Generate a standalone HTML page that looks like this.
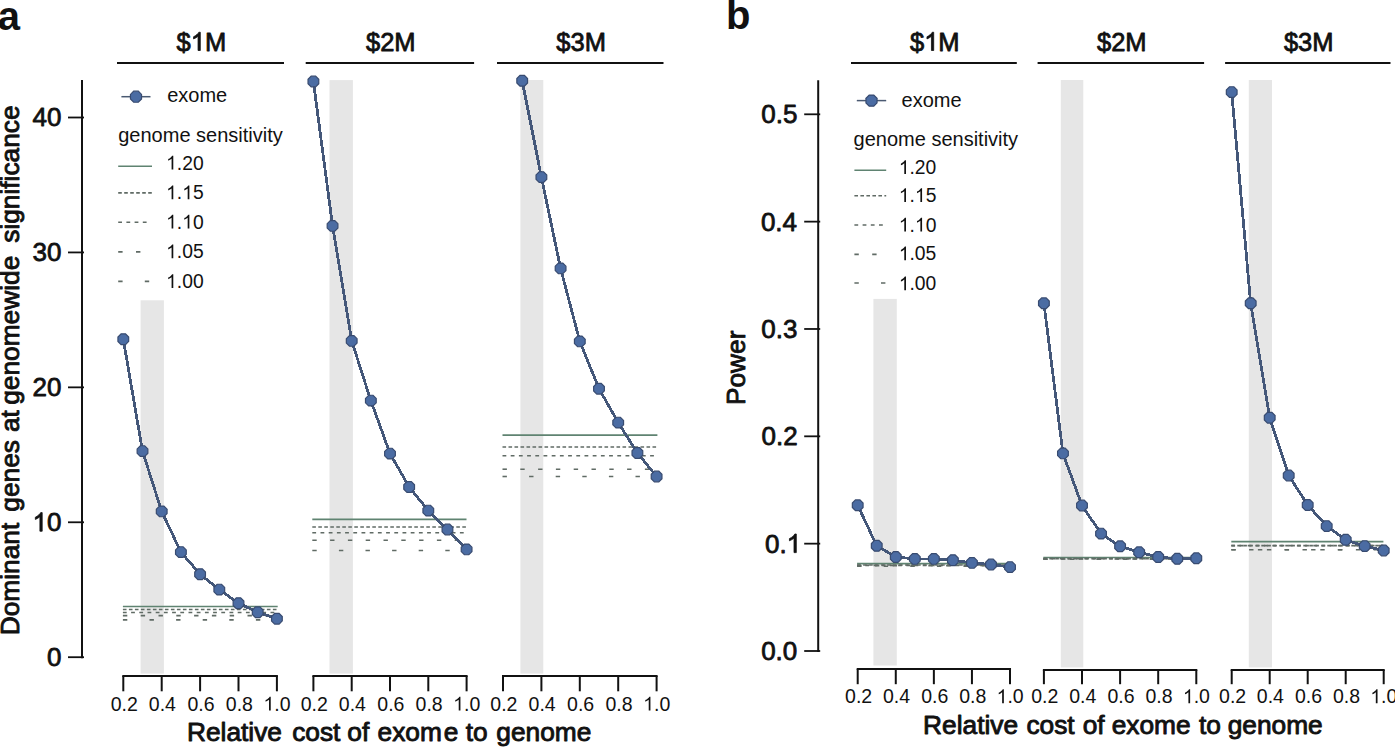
<!DOCTYPE html>
<html><head><meta charset="utf-8"><title>figure</title>
<style>html,body{margin:0;padding:0;background:#fff;overflow:hidden;} svg{display:block;}</style>
</head><body>
<svg width="1395" height="748" viewBox="0 0 1395 748" font-family='"Liberation Sans", sans-serif'>
<rect width="1395" height="748" fill="#ffffff"/>
<text x="-2.37" y="29.80" font-size="40" font-weight="bold" fill="#111111">a</text>
<line x1="82" y1="80" x2="82" y2="658.2" stroke="#111111" stroke-width="2"/>
<line x1="68" y1="657.20" x2="84" y2="657.20" stroke="#111111" stroke-width="1.8"/>
<text x="46.96" y="666.15" font-size="26" font-weight="normal" fill="#111111" stroke="#111111" stroke-width="0.8" stroke-linejoin="round">0</text>
<line x1="68" y1="522.28" x2="84" y2="522.28" stroke="#111111" stroke-width="1.8"/>
<path transform="translate(32.50,531.23) scale(0.01270,-0.01270)" d="M763,0L583,0L583,1147Q518,1085 415,1024Q312,964 223,931L223,1105Q374,1176 487,1276Q600,1377 647,1466L763,1466Z" fill="#111111" stroke="#111111" stroke-width="63.0" stroke-linejoin="round"/><text x="46.96" y="531.23" font-size="26" font-weight="normal" fill="#111111" stroke="#111111" stroke-width="0.8" stroke-linejoin="round">0</text>
<line x1="68" y1="387.35" x2="84" y2="387.35" stroke="#111111" stroke-width="1.8"/>
<text x="32.50" y="396.30" font-size="26" font-weight="normal" fill="#111111" stroke="#111111" stroke-width="0.8" stroke-linejoin="round">20</text>
<line x1="68" y1="252.43" x2="84" y2="252.43" stroke="#111111" stroke-width="1.8"/>
<text x="32.50" y="261.38" font-size="26" font-weight="normal" fill="#111111" stroke="#111111" stroke-width="0.8" stroke-linejoin="round">30</text>
<line x1="68" y1="117.50" x2="84" y2="117.50" stroke="#111111" stroke-width="1.8"/>
<text x="32.50" y="126.45" font-size="26" font-weight="normal" fill="#111111" stroke="#111111" stroke-width="0.8" stroke-linejoin="round">40</text>
<g transform="rotate(-90)"><text x="-635.31" y="18.70" font-size="26.3" font-weight="normal" fill="#111111" stroke="#111111" stroke-width="0.9" stroke-linejoin="round">Dominant</text><text x="-511.65" y="18.70" font-size="26.3" font-weight="normal" fill="#111111" stroke="#111111" stroke-width="0.9" stroke-linejoin="round">genes</text><text x="-432.07" y="18.70" font-size="26.3" font-weight="normal" fill="#111111" stroke="#111111" stroke-width="0.9" stroke-linejoin="round">at</text><text x="-404.85" y="18.70" font-size="26.3" font-weight="normal" fill="#111111" stroke="#111111" stroke-width="0.9" stroke-linejoin="round">genomewide</text><text x="-242.78" y="18.70" font-size="26.3" font-weight="normal" fill="#111111" stroke="#111111" stroke-width="0.9" stroke-linejoin="round">significance</text></g>
<text x="186.99" y="741.20" font-size="26.3" font-weight="normal" fill="#111111" stroke="#111111" stroke-width="0.9" stroke-linejoin="round">Relative</text><text x="292.13" y="741.20" font-size="26.3" font-weight="normal" fill="#111111" stroke="#111111" stroke-width="0.9" stroke-linejoin="round">cost</text><text x="347.35" y="741.20" font-size="26.3" font-weight="normal" fill="#111111" stroke="#111111" stroke-width="0.9" stroke-linejoin="round">of</text><text x="377.53" y="741.20" font-size="26.3" font-weight="normal" fill="#111111" stroke="#111111" stroke-width="0.9" stroke-linejoin="round">exom</text><text x="443.83" y="741.20" font-size="26.3" font-weight="normal" fill="#111111" stroke="#111111" stroke-width="0.9" stroke-linejoin="round">e</text><text x="465.65" y="741.20" font-size="26.3" font-weight="normal" fill="#111111" stroke="#111111" stroke-width="0.9" stroke-linejoin="round">to</text><text x="496.35" y="741.20" font-size="26.3" font-weight="normal" fill="#111111" stroke="#111111" stroke-width="0.9" stroke-linejoin="round">genome</text>
<text x="176.61" y="50.50" font-size="25.5" font-weight="normal" fill="#111111" stroke="#111111" stroke-width="0.8" stroke-linejoin="round">$</text><path transform="translate(190.79,50.50) scale(0.01245,-0.01245)" d="M763,0L583,0L583,1147Q518,1085 415,1024Q312,964 223,931L223,1105Q374,1176 487,1276Q600,1377 647,1466L763,1466Z" fill="#111111" stroke="#111111" stroke-width="64.3" stroke-linejoin="round"/><text x="204.97" y="50.50" font-size="25.5" font-weight="normal" fill="#111111" stroke="#111111" stroke-width="0.8" stroke-linejoin="round">M</text>
<line x1="117" y1="62.9" x2="284" y2="62.9" stroke="#111111" stroke-width="2"/>
<rect x="140.6" y="300.3" width="23.30" height="373.30" fill="#e6e6e6"/>
<line x1="122.3" y1="676" x2="277.90000000000003" y2="676" stroke="#111111" stroke-width="2"/>
<line x1="123.30" y1="676" x2="123.30" y2="691.3" stroke="#111111" stroke-width="2"/>
<text x="110.66" y="710.60" font-size="19.5" font-weight="normal" fill="#111111">0.2</text>
<line x1="161.70" y1="676" x2="161.70" y2="691.3" stroke="#111111" stroke-width="2"/>
<text x="148.85" y="710.60" font-size="19.5" font-weight="normal" fill="#111111">0.4</text>
<line x1="200.10" y1="676" x2="200.10" y2="691.3" stroke="#111111" stroke-width="2"/>
<text x="187.39" y="710.60" font-size="19.5" font-weight="normal" fill="#111111">0.6</text>
<line x1="238.50" y1="676" x2="238.50" y2="691.3" stroke="#111111" stroke-width="2"/>
<text x="225.79" y="710.60" font-size="19.5" font-weight="normal" fill="#111111">0.8</text>
<line x1="276.90" y1="676" x2="276.90" y2="691.3" stroke="#111111" stroke-width="2"/>
<path transform="translate(263.47,710.60) scale(0.00952,-0.00952)" d="M763,0L583,0L583,1147Q518,1085 415,1024Q312,964 223,931L223,1105Q374,1176 487,1276Q600,1377 647,1466L763,1466Z" fill="#111111"/><text x="274.31" y="710.60" font-size="19.5" font-weight="normal" fill="#111111">.0</text>
<line x1="122.9" y1="606.5" x2="277.7" y2="606.5" stroke="#5f8371" stroke-width="1.6"/>
<line x1="122.9" y1="609.5" x2="277.7" y2="609.5" stroke="#606b65" stroke-width="1.6" stroke-dasharray="3.6 2.4"/>
<line x1="122.9" y1="612.5" x2="277.7" y2="612.5" stroke="#606b65" stroke-width="1.6" stroke-dasharray="3.8 4.4"/>
<line x1="122.9" y1="615.6" x2="277.7" y2="615.6" stroke="#606b65" stroke-width="1.6" stroke-dasharray="4.4 13.4"/>
<line x1="122.9" y1="619.9" x2="277.7" y2="619.9" stroke="#606b65" stroke-width="1.6" stroke-dasharray="4.4 22.2"/>
<polyline points="123.30,339.2 142.50,451.1 161.70,511.4 180.90,552.1 200.10,574.2 219.30,589.6 238.50,603.2 257.70,612.3 276.90,618.7" fill="none" stroke="#445779" stroke-width="2.8" stroke-linejoin="round" shape-rendering="crispEdges"/>
<polygon points="128.66,341.42 125.52,344.56 121.08,344.56 117.94,341.42 117.94,336.98 121.08,333.84 125.52,333.84 128.66,336.98" fill="#4b6ca3" stroke="#384b70" stroke-width="1.2"/>
<polygon points="147.86,453.32 144.72,456.46 140.28,456.46 137.14,453.32 137.14,448.88 140.28,445.74 144.72,445.74 147.86,448.88" fill="#4b6ca3" stroke="#384b70" stroke-width="1.2"/>
<polygon points="167.06,513.62 163.92,516.76 159.48,516.76 156.34,513.62 156.34,509.18 159.48,506.04 163.92,506.04 167.06,509.18" fill="#4b6ca3" stroke="#384b70" stroke-width="1.2"/>
<polygon points="186.26,554.32 183.12,557.46 178.68,557.46 175.54,554.32 175.54,549.88 178.68,546.74 183.12,546.74 186.26,549.88" fill="#4b6ca3" stroke="#384b70" stroke-width="1.2"/>
<polygon points="205.46,576.42 202.32,579.56 197.88,579.56 194.74,576.42 194.74,571.98 197.88,568.84 202.32,568.84 205.46,571.98" fill="#4b6ca3" stroke="#384b70" stroke-width="1.2"/>
<polygon points="224.66,591.82 221.52,594.96 217.08,594.96 213.94,591.82 213.94,587.38 217.08,584.24 221.52,584.24 224.66,587.38" fill="#4b6ca3" stroke="#384b70" stroke-width="1.2"/>
<polygon points="243.86,605.42 240.72,608.56 236.28,608.56 233.14,605.42 233.14,600.98 236.28,597.84 240.72,597.84 243.86,600.98" fill="#4b6ca3" stroke="#384b70" stroke-width="1.2"/>
<polygon points="263.06,614.52 259.92,617.66 255.48,617.66 252.34,614.52 252.34,610.08 255.48,606.94 259.92,606.94 263.06,610.08" fill="#4b6ca3" stroke="#384b70" stroke-width="1.2"/>
<polygon points="282.26,620.92 279.12,624.06 274.68,624.06 271.54,620.92 271.54,616.48 274.68,613.34 279.12,613.34 282.26,616.48" fill="#4b6ca3" stroke="#384b70" stroke-width="1.2"/>
<text x="366.01" y="50.50" font-size="25.5" font-weight="normal" fill="#111111" stroke="#111111" stroke-width="0.8" stroke-linejoin="round">$2M</text>
<line x1="305.7" y1="62.9" x2="474.1" y2="62.9" stroke="#111111" stroke-width="2"/>
<rect x="329.5" y="80.1" width="23.40" height="593.50" fill="#e6e6e6"/>
<line x1="312.4" y1="676" x2="467.6" y2="676" stroke="#111111" stroke-width="2"/>
<line x1="313.40" y1="676" x2="313.40" y2="691.3" stroke="#111111" stroke-width="2"/>
<text x="300.76" y="710.60" font-size="19.5" font-weight="normal" fill="#111111">0.2</text>
<line x1="351.70" y1="676" x2="351.70" y2="691.3" stroke="#111111" stroke-width="2"/>
<text x="338.85" y="710.60" font-size="19.5" font-weight="normal" fill="#111111">0.4</text>
<line x1="390.00" y1="676" x2="390.00" y2="691.3" stroke="#111111" stroke-width="2"/>
<text x="377.29" y="710.60" font-size="19.5" font-weight="normal" fill="#111111">0.6</text>
<line x1="428.30" y1="676" x2="428.30" y2="691.3" stroke="#111111" stroke-width="2"/>
<text x="415.59" y="710.60" font-size="19.5" font-weight="normal" fill="#111111">0.8</text>
<line x1="466.60" y1="676" x2="466.60" y2="691.3" stroke="#111111" stroke-width="2"/>
<path transform="translate(453.17,710.60) scale(0.00952,-0.00952)" d="M763,0L583,0L583,1147Q518,1085 415,1024Q312,964 223,931L223,1105Q374,1176 487,1276Q600,1377 647,1466L763,1466Z" fill="#111111"/><text x="464.01" y="710.60" font-size="19.5" font-weight="normal" fill="#111111">.0</text>
<line x1="312.3" y1="519.4" x2="466.5" y2="519.4" stroke="#5f8371" stroke-width="1.6"/>
<line x1="312.3" y1="527" x2="466.5" y2="527" stroke="#606b65" stroke-width="1.6" stroke-dasharray="3.6 2.4"/>
<line x1="312.3" y1="532.8" x2="466.5" y2="532.8" stroke="#606b65" stroke-width="1.6" stroke-dasharray="3.8 4.4"/>
<line x1="312.3" y1="540.3" x2="466.5" y2="540.3" stroke="#606b65" stroke-width="1.6" stroke-dasharray="4.4 13.4"/>
<line x1="312.3" y1="550.5" x2="466.5" y2="550.5" stroke="#606b65" stroke-width="1.6" stroke-dasharray="4.4 22.2"/>
<polyline points="313.40,81.5 332.55,225.9 351.70,340.9 370.85,400.6 390.00,453.6 409.15,487 428.30,510.6 447.45,529.5 466.60,549.4" fill="none" stroke="#445779" stroke-width="2.8" stroke-linejoin="round" shape-rendering="crispEdges"/>
<polygon points="318.76,83.72 315.62,86.86 311.18,86.86 308.04,83.72 308.04,79.28 311.18,76.14 315.62,76.14 318.76,79.28" fill="#4b6ca3" stroke="#384b70" stroke-width="1.2"/>
<polygon points="337.91,228.12 334.77,231.26 330.33,231.26 327.19,228.12 327.19,223.68 330.33,220.54 334.77,220.54 337.91,223.68" fill="#4b6ca3" stroke="#384b70" stroke-width="1.2"/>
<polygon points="357.06,343.12 353.92,346.26 349.48,346.26 346.34,343.12 346.34,338.68 349.48,335.54 353.92,335.54 357.06,338.68" fill="#4b6ca3" stroke="#384b70" stroke-width="1.2"/>
<polygon points="376.21,402.82 373.07,405.96 368.63,405.96 365.49,402.82 365.49,398.38 368.63,395.24 373.07,395.24 376.21,398.38" fill="#4b6ca3" stroke="#384b70" stroke-width="1.2"/>
<polygon points="395.36,455.82 392.22,458.96 387.78,458.96 384.64,455.82 384.64,451.38 387.78,448.24 392.22,448.24 395.36,451.38" fill="#4b6ca3" stroke="#384b70" stroke-width="1.2"/>
<polygon points="414.51,489.22 411.37,492.36 406.93,492.36 403.79,489.22 403.79,484.78 406.93,481.64 411.37,481.64 414.51,484.78" fill="#4b6ca3" stroke="#384b70" stroke-width="1.2"/>
<polygon points="433.66,512.82 430.52,515.96 426.08,515.96 422.94,512.82 422.94,508.38 426.08,505.24 430.52,505.24 433.66,508.38" fill="#4b6ca3" stroke="#384b70" stroke-width="1.2"/>
<polygon points="452.81,531.72 449.67,534.86 445.23,534.86 442.09,531.72 442.09,527.28 445.23,524.14 449.67,524.14 452.81,527.28" fill="#4b6ca3" stroke="#384b70" stroke-width="1.2"/>
<polygon points="471.96,551.62 468.82,554.76 464.38,554.76 461.24,551.62 461.24,547.18 464.38,544.04 468.82,544.04 471.96,547.18" fill="#4b6ca3" stroke="#384b70" stroke-width="1.2"/>
<text x="556.36" y="50.50" font-size="25.5" font-weight="normal" fill="#111111" stroke="#111111" stroke-width="0.8" stroke-linejoin="round">$3M</text>
<line x1="497" y1="62.9" x2="663.5" y2="62.9" stroke="#111111" stroke-width="2"/>
<rect x="520.4" y="80" width="22.90" height="593.60" fill="#e6e6e6"/>
<line x1="502.0" y1="676" x2="657.6" y2="676" stroke="#111111" stroke-width="2"/>
<line x1="503.00" y1="676" x2="503.00" y2="691.3" stroke="#111111" stroke-width="2"/>
<text x="490.36" y="710.60" font-size="19.5" font-weight="normal" fill="#111111">0.2</text>
<line x1="541.40" y1="676" x2="541.40" y2="691.3" stroke="#111111" stroke-width="2"/>
<text x="528.55" y="710.60" font-size="19.5" font-weight="normal" fill="#111111">0.4</text>
<line x1="579.80" y1="676" x2="579.80" y2="691.3" stroke="#111111" stroke-width="2"/>
<text x="567.09" y="710.60" font-size="19.5" font-weight="normal" fill="#111111">0.6</text>
<line x1="618.20" y1="676" x2="618.20" y2="691.3" stroke="#111111" stroke-width="2"/>
<text x="605.49" y="710.60" font-size="19.5" font-weight="normal" fill="#111111">0.8</text>
<line x1="656.60" y1="676" x2="656.60" y2="691.3" stroke="#111111" stroke-width="2"/>
<path transform="translate(643.17,710.60) scale(0.00952,-0.00952)" d="M763,0L583,0L583,1147Q518,1085 415,1024Q312,964 223,931L223,1105Q374,1176 487,1276Q600,1377 647,1466L763,1466Z" fill="#111111"/><text x="654.01" y="710.60" font-size="19.5" font-weight="normal" fill="#111111">.0</text>
<line x1="502.5" y1="435.1" x2="657.4" y2="435.1" stroke="#5f8371" stroke-width="1.6"/>
<line x1="502.5" y1="447" x2="657.4" y2="447" stroke="#606b65" stroke-width="1.6" stroke-dasharray="3.6 2.4"/>
<line x1="502.5" y1="455.7" x2="657.4" y2="455.7" stroke="#606b65" stroke-width="1.6" stroke-dasharray="3.8 4.4"/>
<line x1="502.5" y1="469.2" x2="657.4" y2="469.2" stroke="#606b65" stroke-width="1.6" stroke-dasharray="4.4 13.4"/>
<line x1="502.5" y1="476.5" x2="657.4" y2="476.5" stroke="#606b65" stroke-width="1.6" stroke-dasharray="4.4 22.2"/>
<polyline points="522.20,80.8 541.40,177.1 560.60,268.4 579.80,341.4 599.00,388.7 618.20,422.6 637.40,453 656.60,476.5" fill="none" stroke="#445779" stroke-width="2.8" stroke-linejoin="round" shape-rendering="crispEdges"/>
<polygon points="527.56,83.02 524.42,86.16 519.98,86.16 516.84,83.02 516.84,78.58 519.98,75.44 524.42,75.44 527.56,78.58" fill="#4b6ca3" stroke="#384b70" stroke-width="1.2"/>
<polygon points="546.76,179.32 543.62,182.46 539.18,182.46 536.04,179.32 536.04,174.88 539.18,171.74 543.62,171.74 546.76,174.88" fill="#4b6ca3" stroke="#384b70" stroke-width="1.2"/>
<polygon points="565.96,270.62 562.82,273.76 558.38,273.76 555.24,270.62 555.24,266.18 558.38,263.04 562.82,263.04 565.96,266.18" fill="#4b6ca3" stroke="#384b70" stroke-width="1.2"/>
<polygon points="585.16,343.62 582.02,346.76 577.58,346.76 574.44,343.62 574.44,339.18 577.58,336.04 582.02,336.04 585.16,339.18" fill="#4b6ca3" stroke="#384b70" stroke-width="1.2"/>
<polygon points="604.36,390.92 601.22,394.06 596.78,394.06 593.64,390.92 593.64,386.48 596.78,383.34 601.22,383.34 604.36,386.48" fill="#4b6ca3" stroke="#384b70" stroke-width="1.2"/>
<polygon points="623.56,424.82 620.42,427.96 615.98,427.96 612.84,424.82 612.84,420.38 615.98,417.24 620.42,417.24 623.56,420.38" fill="#4b6ca3" stroke="#384b70" stroke-width="1.2"/>
<polygon points="642.76,455.22 639.62,458.36 635.18,458.36 632.04,455.22 632.04,450.78 635.18,447.64 639.62,447.64 642.76,450.78" fill="#4b6ca3" stroke="#384b70" stroke-width="1.2"/>
<polygon points="661.96,478.72 658.82,481.86 654.38,481.86 651.24,478.72 651.24,474.28 654.38,471.14 658.82,471.14 661.96,474.28" fill="#4b6ca3" stroke="#384b70" stroke-width="1.2"/>
<line x1="121.4" y1="96.7" x2="150.5" y2="96.7" stroke="#4a5a72" stroke-width="1.5"/>
<polygon points="141.54,99.00 138.30,102.24 133.70,102.24 130.46,99.00 130.46,94.40 133.70,91.16 138.30,91.16 141.54,94.40" fill="#4b6ca3" stroke="#384b70" stroke-width="1.2"/>
<text x="167.15" y="102.10" font-size="20" font-weight="normal" fill="#111111">exome</text>
<text x="118.26" y="141.80" font-size="20" font-weight="normal" fill="#111111">genome sensitivity</text>
<line x1="118.2" y1="166.2" x2="152" y2="166.2" stroke="#5f8371" stroke-width="1.6"/>
<path transform="translate(166.10,169.50) scale(0.00942,-0.00942)" d="M763,0L583,0L583,1147Q518,1085 415,1024Q312,964 223,931L223,1105Q374,1176 487,1276Q600,1377 647,1466L763,1466Z" fill="#111111"/><text x="176.83" y="169.50" font-size="19.3" font-weight="normal" fill="#111111">.20</text>
<line x1="118.2" y1="192.9" x2="152" y2="192.9" stroke="#606b65" stroke-width="1.6" stroke-dasharray="3.6 2.4"/>
<path transform="translate(166.10,199.20) scale(0.00942,-0.00942)" d="M763,0L583,0L583,1147Q518,1085 415,1024Q312,964 223,931L223,1105Q374,1176 487,1276Q600,1377 647,1466L763,1466Z" fill="#111111"/><text x="176.83" y="199.20" font-size="19.3" font-weight="normal" fill="#111111">.</text><path transform="translate(182.19,199.20) scale(0.00942,-0.00942)" d="M763,0L583,0L583,1147Q518,1085 415,1024Q312,964 223,931L223,1105Q374,1176 487,1276Q600,1377 647,1466L763,1466Z" fill="#111111"/><text x="192.93" y="199.20" font-size="19.3" font-weight="normal" fill="#111111">5</text>
<line x1="118.2" y1="222.3" x2="147.2" y2="222.3" stroke="#606b65" stroke-width="1.6" stroke-dasharray="3.8 4.4"/>
<path transform="translate(166.10,228.50) scale(0.00942,-0.00942)" d="M763,0L583,0L583,1147Q518,1085 415,1024Q312,964 223,931L223,1105Q374,1176 487,1276Q600,1377 647,1466L763,1466Z" fill="#111111"/><text x="176.83" y="228.50" font-size="19.3" font-weight="normal" fill="#111111">.</text><path transform="translate(182.19,228.50) scale(0.00942,-0.00942)" d="M763,0L583,0L583,1147Q518,1085 415,1024Q312,964 223,931L223,1105Q374,1176 487,1276Q600,1377 647,1466L763,1466Z" fill="#111111"/><text x="192.93" y="228.50" font-size="19.3" font-weight="normal" fill="#111111">0</text>
<line x1="118.2" y1="251.9" x2="152" y2="251.9" stroke="#606b65" stroke-width="1.6" stroke-dasharray="4.4 13.4"/>
<path transform="translate(166.10,258.20) scale(0.00942,-0.00942)" d="M763,0L583,0L583,1147Q518,1085 415,1024Q312,964 223,931L223,1105Q374,1176 487,1276Q600,1377 647,1466L763,1466Z" fill="#111111"/><text x="176.83" y="258.20" font-size="19.3" font-weight="normal" fill="#111111">.05</text>
<line x1="118.2" y1="281.4" x2="152" y2="281.4" stroke="#606b65" stroke-width="1.6" stroke-dasharray="4.4 22.2"/>
<path transform="translate(166.10,288.00) scale(0.00942,-0.00942)" d="M763,0L583,0L583,1147Q518,1085 415,1024Q312,964 223,931L223,1105Q374,1176 487,1276Q600,1377 647,1466L763,1466Z" fill="#111111"/><text x="176.83" y="288.00" font-size="19.3" font-weight="normal" fill="#111111">.00</text>
<text x="726.06" y="29.40" font-size="40" font-weight="bold" fill="#111111">b</text>
<line x1="818.2" y1="80.2" x2="818.2" y2="652" stroke="#111111" stroke-width="2"/>
<line x1="804.2" y1="651.00" x2="820.2" y2="651.00" stroke="#111111" stroke-width="1.8"/>
<text x="761.17" y="659.95" font-size="26" font-weight="normal" fill="#111111" stroke="#111111" stroke-width="0.8" stroke-linejoin="round">0.0</text>
<line x1="804.2" y1="543.66" x2="820.2" y2="543.66" stroke="#111111" stroke-width="1.8"/>
<text x="764.93" y="552.61" font-size="26" font-weight="normal" fill="#111111" stroke="#111111" stroke-width="0.8" stroke-linejoin="round">0.</text><path transform="translate(786.61,552.61) scale(0.01270,-0.01270)" d="M763,0L583,0L583,1147Q518,1085 415,1024Q312,964 223,931L223,1105Q374,1176 487,1276Q600,1377 647,1466L763,1466Z" fill="#111111" stroke="#111111" stroke-width="63.0" stroke-linejoin="round"/>
<line x1="804.2" y1="436.32" x2="820.2" y2="436.32" stroke="#111111" stroke-width="1.8"/>
<text x="761.46" y="445.27" font-size="26" font-weight="normal" fill="#111111" stroke="#111111" stroke-width="0.8" stroke-linejoin="round">0.2</text>
<line x1="804.2" y1="328.98" x2="820.2" y2="328.98" stroke="#111111" stroke-width="1.8"/>
<text x="761.30" y="337.93" font-size="26" font-weight="normal" fill="#111111" stroke="#111111" stroke-width="0.8" stroke-linejoin="round">0.3</text>
<line x1="804.2" y1="221.64" x2="820.2" y2="221.64" stroke="#111111" stroke-width="1.8"/>
<text x="760.92" y="230.59" font-size="26" font-weight="normal" fill="#111111" stroke="#111111" stroke-width="0.8" stroke-linejoin="round">0.4</text>
<line x1="804.2" y1="114.30" x2="820.2" y2="114.30" stroke="#111111" stroke-width="1.8"/>
<text x="761.25" y="123.25" font-size="26" font-weight="normal" fill="#111111" stroke="#111111" stroke-width="0.8" stroke-linejoin="round">0.5</text>
<g transform="rotate(-90)"><text x="-405.11" y="745.20" font-size="26.3" font-weight="normal" fill="#111111" stroke="#111111" stroke-width="0.9" stroke-linejoin="round">Power</text></g>
<text x="923.09" y="733.90" font-size="26.3" font-weight="normal" fill="#111111" stroke="#111111" stroke-width="0.9" stroke-linejoin="round">Relative</text><text x="1026.43" y="733.90" font-size="26.3" font-weight="normal" fill="#111111" stroke="#111111" stroke-width="0.9" stroke-linejoin="round">cost</text><text x="1082.65" y="733.90" font-size="26.3" font-weight="normal" fill="#111111" stroke="#111111" stroke-width="0.9" stroke-linejoin="round">of</text><text x="1111.73" y="733.90" font-size="26.3" font-weight="normal" fill="#111111" stroke="#111111" stroke-width="0.9" stroke-linejoin="round">exome</text><text x="1198.95" y="733.90" font-size="26.3" font-weight="normal" fill="#111111" stroke="#111111" stroke-width="0.9" stroke-linejoin="round">to</text><text x="1227.65" y="733.90" font-size="26.3" font-weight="normal" fill="#111111" stroke="#111111" stroke-width="0.9" stroke-linejoin="round">genome</text>
<text x="910.01" y="50.50" font-size="25.5" font-weight="normal" fill="#111111" stroke="#111111" stroke-width="0.8" stroke-linejoin="round">$</text><path transform="translate(924.19,50.50) scale(0.01245,-0.01245)" d="M763,0L583,0L583,1147Q518,1085 415,1024Q312,964 223,931L223,1105Q374,1176 487,1276Q600,1377 647,1466L763,1466Z" fill="#111111" stroke="#111111" stroke-width="64.3" stroke-linejoin="round"/><text x="938.37" y="50.50" font-size="25.5" font-weight="normal" fill="#111111" stroke="#111111" stroke-width="0.8" stroke-linejoin="round">M</text>
<line x1="851" y1="62.9" x2="1016.8" y2="62.9" stroke="#111111" stroke-width="2"/>
<rect x="873.4" y="298.9" width="23.40" height="366.60" fill="#e6e6e6"/>
<line x1="856.7" y1="669" x2="1011.0200000000001" y2="669" stroke="#111111" stroke-width="2"/>
<line x1="857.70" y1="669" x2="857.70" y2="684.2" stroke="#111111" stroke-width="2"/>
<text x="845.06" y="703.20" font-size="19.5" font-weight="normal" fill="#111111">0.2</text>
<line x1="895.78" y1="669" x2="895.78" y2="684.2" stroke="#111111" stroke-width="2"/>
<text x="882.93" y="703.20" font-size="19.5" font-weight="normal" fill="#111111">0.4</text>
<line x1="933.86" y1="669" x2="933.86" y2="684.2" stroke="#111111" stroke-width="2"/>
<text x="921.15" y="703.20" font-size="19.5" font-weight="normal" fill="#111111">0.6</text>
<line x1="971.94" y1="669" x2="971.94" y2="684.2" stroke="#111111" stroke-width="2"/>
<text x="959.23" y="703.20" font-size="19.5" font-weight="normal" fill="#111111">0.8</text>
<line x1="1010.02" y1="669" x2="1010.02" y2="684.2" stroke="#111111" stroke-width="2"/>
<path transform="translate(996.59,703.20) scale(0.00952,-0.00952)" d="M763,0L583,0L583,1147Q518,1085 415,1024Q312,964 223,931L223,1105Q374,1176 487,1276Q600,1377 647,1466L763,1466Z" fill="#111111"/><text x="1007.43" y="703.20" font-size="19.5" font-weight="normal" fill="#111111">.0</text>
<line x1="857.1" y1="563.6" x2="1009.5" y2="563.6" stroke="#5f8371" stroke-width="1.6"/>
<line x1="857.1" y1="565.0" x2="1009.5" y2="565.0" stroke="#606b65" stroke-width="1.6" stroke-dasharray="3.6 2.4"/>
<line x1="857.1" y1="565.4" x2="1009.5" y2="565.4" stroke="#606b65" stroke-width="1.6" stroke-dasharray="3.8 4.4"/>
<line x1="857.1" y1="565.8" x2="1009.5" y2="565.8" stroke="#606b65" stroke-width="1.6" stroke-dasharray="4.4 13.4"/>
<line x1="857.1" y1="566.2" x2="1009.5" y2="566.2" stroke="#606b65" stroke-width="1.6" stroke-dasharray="4.4 22.2"/>
<polyline points="857.70,505.3 876.74,545.8 895.78,557 914.82,558.9 933.86,558.9 952.90,560.2 971.94,562.9 990.98,564.5 1010.02,567.1" fill="none" stroke="#445779" stroke-width="2.8" stroke-linejoin="round" shape-rendering="crispEdges"/>
<polygon points="863.06,507.52 859.92,510.66 855.48,510.66 852.34,507.52 852.34,503.08 855.48,499.94 859.92,499.94 863.06,503.08" fill="#4b6ca3" stroke="#384b70" stroke-width="1.2"/>
<polygon points="882.10,548.02 878.96,551.16 874.52,551.16 871.38,548.02 871.38,543.58 874.52,540.44 878.96,540.44 882.10,543.58" fill="#4b6ca3" stroke="#384b70" stroke-width="1.2"/>
<polygon points="901.14,559.22 898.00,562.36 893.56,562.36 890.42,559.22 890.42,554.78 893.56,551.64 898.00,551.64 901.14,554.78" fill="#4b6ca3" stroke="#384b70" stroke-width="1.2"/>
<polygon points="920.18,561.12 917.04,564.26 912.60,564.26 909.46,561.12 909.46,556.68 912.60,553.54 917.04,553.54 920.18,556.68" fill="#4b6ca3" stroke="#384b70" stroke-width="1.2"/>
<polygon points="939.22,561.12 936.08,564.26 931.64,564.26 928.50,561.12 928.50,556.68 931.64,553.54 936.08,553.54 939.22,556.68" fill="#4b6ca3" stroke="#384b70" stroke-width="1.2"/>
<polygon points="958.26,562.42 955.12,565.56 950.68,565.56 947.54,562.42 947.54,557.98 950.68,554.84 955.12,554.84 958.26,557.98" fill="#4b6ca3" stroke="#384b70" stroke-width="1.2"/>
<polygon points="977.30,565.12 974.16,568.26 969.72,568.26 966.58,565.12 966.58,560.68 969.72,557.54 974.16,557.54 977.30,560.68" fill="#4b6ca3" stroke="#384b70" stroke-width="1.2"/>
<polygon points="996.34,566.72 993.20,569.86 988.76,569.86 985.62,566.72 985.62,562.28 988.76,559.14 993.20,559.14 996.34,562.28" fill="#4b6ca3" stroke="#384b70" stroke-width="1.2"/>
<polygon points="1015.38,569.32 1012.24,572.46 1007.80,572.46 1004.66,569.32 1004.66,564.88 1007.80,561.74 1012.24,561.74 1015.38,564.88" fill="#4b6ca3" stroke="#384b70" stroke-width="1.2"/>
<text x="1096.96" y="50.50" font-size="25.5" font-weight="normal" fill="#111111" stroke="#111111" stroke-width="0.8" stroke-linejoin="round">$2M</text>
<line x1="1037.6" y1="62.9" x2="1204.1" y2="62.9" stroke="#111111" stroke-width="2"/>
<rect x="1060.8" y="80" width="22.50" height="587.40" fill="#e6e6e6"/>
<line x1="1042.9" y1="670" x2="1197.3000000000002" y2="670" stroke="#111111" stroke-width="2"/>
<line x1="1043.90" y1="670" x2="1043.90" y2="684.2" stroke="#111111" stroke-width="2"/>
<text x="1031.26" y="703.20" font-size="19.5" font-weight="normal" fill="#111111">0.2</text>
<line x1="1082.00" y1="670" x2="1082.00" y2="684.2" stroke="#111111" stroke-width="2"/>
<text x="1069.15" y="703.20" font-size="19.5" font-weight="normal" fill="#111111">0.4</text>
<line x1="1120.10" y1="670" x2="1120.10" y2="684.2" stroke="#111111" stroke-width="2"/>
<text x="1107.39" y="703.20" font-size="19.5" font-weight="normal" fill="#111111">0.6</text>
<line x1="1158.20" y1="670" x2="1158.20" y2="684.2" stroke="#111111" stroke-width="2"/>
<text x="1145.49" y="703.20" font-size="19.5" font-weight="normal" fill="#111111">0.8</text>
<line x1="1196.30" y1="670" x2="1196.30" y2="684.2" stroke="#111111" stroke-width="2"/>
<path transform="translate(1182.87,703.20) scale(0.00952,-0.00952)" d="M763,0L583,0L583,1147Q518,1085 415,1024Q312,964 223,931L223,1105Q374,1176 487,1276Q600,1377 647,1466L763,1466Z" fill="#111111"/><text x="1193.71" y="703.20" font-size="19.5" font-weight="normal" fill="#111111">.0</text>
<line x1="1043.3" y1="557.5" x2="1196.5" y2="557.5" stroke="#5f8371" stroke-width="1.6"/>
<line x1="1043.3" y1="558.6" x2="1196.5" y2="558.6" stroke="#606b65" stroke-width="1.6" stroke-dasharray="3.6 2.4"/>
<line x1="1043.3" y1="558.8" x2="1196.5" y2="558.8" stroke="#606b65" stroke-width="1.6" stroke-dasharray="3.8 4.4"/>
<line x1="1043.3" y1="559.0" x2="1196.5" y2="559.0" stroke="#606b65" stroke-width="1.6" stroke-dasharray="4.4 13.4"/>
<line x1="1043.3" y1="559.3" x2="1196.5" y2="559.3" stroke="#606b65" stroke-width="1.6" stroke-dasharray="4.4 22.2"/>
<polyline points="1043.90,303.3 1062.95,453.4 1082.00,505.5 1101.05,533.6 1120.10,546.3 1139.15,552.3 1158.20,557 1177.25,558.8 1196.30,558.3" fill="none" stroke="#445779" stroke-width="2.8" stroke-linejoin="round" shape-rendering="crispEdges"/>
<polygon points="1049.26,305.52 1046.12,308.66 1041.68,308.66 1038.54,305.52 1038.54,301.08 1041.68,297.94 1046.12,297.94 1049.26,301.08" fill="#4b6ca3" stroke="#384b70" stroke-width="1.2"/>
<polygon points="1068.31,455.62 1065.17,458.76 1060.73,458.76 1057.59,455.62 1057.59,451.18 1060.73,448.04 1065.17,448.04 1068.31,451.18" fill="#4b6ca3" stroke="#384b70" stroke-width="1.2"/>
<polygon points="1087.36,507.72 1084.22,510.86 1079.78,510.86 1076.64,507.72 1076.64,503.28 1079.78,500.14 1084.22,500.14 1087.36,503.28" fill="#4b6ca3" stroke="#384b70" stroke-width="1.2"/>
<polygon points="1106.41,535.82 1103.27,538.96 1098.83,538.96 1095.69,535.82 1095.69,531.38 1098.83,528.24 1103.27,528.24 1106.41,531.38" fill="#4b6ca3" stroke="#384b70" stroke-width="1.2"/>
<polygon points="1125.46,548.52 1122.32,551.66 1117.88,551.66 1114.74,548.52 1114.74,544.08 1117.88,540.94 1122.32,540.94 1125.46,544.08" fill="#4b6ca3" stroke="#384b70" stroke-width="1.2"/>
<polygon points="1144.51,554.52 1141.37,557.66 1136.93,557.66 1133.79,554.52 1133.79,550.08 1136.93,546.94 1141.37,546.94 1144.51,550.08" fill="#4b6ca3" stroke="#384b70" stroke-width="1.2"/>
<polygon points="1163.56,559.22 1160.42,562.36 1155.98,562.36 1152.84,559.22 1152.84,554.78 1155.98,551.64 1160.42,551.64 1163.56,554.78" fill="#4b6ca3" stroke="#384b70" stroke-width="1.2"/>
<polygon points="1182.61,561.02 1179.47,564.16 1175.03,564.16 1171.89,561.02 1171.89,556.58 1175.03,553.44 1179.47,553.44 1182.61,556.58" fill="#4b6ca3" stroke="#384b70" stroke-width="1.2"/>
<polygon points="1201.66,560.52 1198.52,563.66 1194.08,563.66 1190.94,560.52 1190.94,556.08 1194.08,552.94 1198.52,552.94 1201.66,556.08" fill="#4b6ca3" stroke="#384b70" stroke-width="1.2"/>
<text x="1283.91" y="50.50" font-size="25.5" font-weight="normal" fill="#111111" stroke="#111111" stroke-width="0.8" stroke-linejoin="round">$3M</text>
<line x1="1225.1" y1="62.9" x2="1390.5" y2="62.9" stroke="#111111" stroke-width="2"/>
<rect x="1248.8" y="80" width="23.20" height="587.40" fill="#e6e6e6"/>
<line x1="1230.7" y1="670" x2="1384.7" y2="670" stroke="#111111" stroke-width="2"/>
<line x1="1231.70" y1="670" x2="1231.70" y2="684.2" stroke="#111111" stroke-width="2"/>
<text x="1219.06" y="703.20" font-size="19.5" font-weight="normal" fill="#111111">0.2</text>
<line x1="1269.70" y1="670" x2="1269.70" y2="684.2" stroke="#111111" stroke-width="2"/>
<text x="1256.85" y="703.20" font-size="19.5" font-weight="normal" fill="#111111">0.4</text>
<line x1="1307.70" y1="670" x2="1307.70" y2="684.2" stroke="#111111" stroke-width="2"/>
<text x="1294.99" y="703.20" font-size="19.5" font-weight="normal" fill="#111111">0.6</text>
<line x1="1345.70" y1="670" x2="1345.70" y2="684.2" stroke="#111111" stroke-width="2"/>
<text x="1332.99" y="703.20" font-size="19.5" font-weight="normal" fill="#111111">0.8</text>
<line x1="1383.70" y1="670" x2="1383.70" y2="684.2" stroke="#111111" stroke-width="2"/>
<path transform="translate(1370.27,703.20) scale(0.00952,-0.00952)" d="M763,0L583,0L583,1147Q518,1085 415,1024Q312,964 223,931L223,1105Q374,1176 487,1276Q600,1377 647,1466L763,1466Z" fill="#111111"/><text x="1381.11" y="703.20" font-size="19.5" font-weight="normal" fill="#111111">.0</text>
<line x1="1231.3" y1="541.6" x2="1383.4" y2="541.6" stroke="#5f8371" stroke-width="1.6"/>
<line x1="1231.3" y1="545.6" x2="1383.4" y2="545.6" stroke="#606b65" stroke-width="1.6" stroke-dasharray="3.6 2.4"/>
<line x1="1231.3" y1="545.6" x2="1383.4" y2="545.6" stroke="#606b65" stroke-width="1.6" stroke-dasharray="3.8 4.4"/>
<line x1="1231.3" y1="549.8" x2="1383.4" y2="549.8" stroke="#606b65" stroke-width="1.6" stroke-dasharray="4.4 13.4"/>
<line x1="1231.3" y1="549.8" x2="1383.4" y2="549.8" stroke="#606b65" stroke-width="1.6" stroke-dasharray="4.4 22.2"/>
<polyline points="1231.70,92.1 1250.70,303.3 1269.70,417.7 1288.70,475.5 1307.70,505 1326.70,526.1 1345.70,539.8 1364.70,546.1 1383.70,550.5" fill="none" stroke="#445779" stroke-width="2.8" stroke-linejoin="round" shape-rendering="crispEdges"/>
<polygon points="1237.06,94.32 1233.92,97.46 1229.48,97.46 1226.34,94.32 1226.34,89.88 1229.48,86.74 1233.92,86.74 1237.06,89.88" fill="#4b6ca3" stroke="#384b70" stroke-width="1.2"/>
<polygon points="1256.06,305.52 1252.92,308.66 1248.48,308.66 1245.34,305.52 1245.34,301.08 1248.48,297.94 1252.92,297.94 1256.06,301.08" fill="#4b6ca3" stroke="#384b70" stroke-width="1.2"/>
<polygon points="1275.06,419.92 1271.92,423.06 1267.48,423.06 1264.34,419.92 1264.34,415.48 1267.48,412.34 1271.92,412.34 1275.06,415.48" fill="#4b6ca3" stroke="#384b70" stroke-width="1.2"/>
<polygon points="1294.06,477.72 1290.92,480.86 1286.48,480.86 1283.34,477.72 1283.34,473.28 1286.48,470.14 1290.92,470.14 1294.06,473.28" fill="#4b6ca3" stroke="#384b70" stroke-width="1.2"/>
<polygon points="1313.06,507.22 1309.92,510.36 1305.48,510.36 1302.34,507.22 1302.34,502.78 1305.48,499.64 1309.92,499.64 1313.06,502.78" fill="#4b6ca3" stroke="#384b70" stroke-width="1.2"/>
<polygon points="1332.06,528.32 1328.92,531.46 1324.48,531.46 1321.34,528.32 1321.34,523.88 1324.48,520.74 1328.92,520.74 1332.06,523.88" fill="#4b6ca3" stroke="#384b70" stroke-width="1.2"/>
<polygon points="1351.06,542.02 1347.92,545.16 1343.48,545.16 1340.34,542.02 1340.34,537.58 1343.48,534.44 1347.92,534.44 1351.06,537.58" fill="#4b6ca3" stroke="#384b70" stroke-width="1.2"/>
<polygon points="1370.06,548.32 1366.92,551.46 1362.48,551.46 1359.34,548.32 1359.34,543.88 1362.48,540.74 1366.92,540.74 1370.06,543.88" fill="#4b6ca3" stroke="#384b70" stroke-width="1.2"/>
<polygon points="1389.06,552.72 1385.92,555.86 1381.48,555.86 1378.34,552.72 1378.34,548.28 1381.48,545.14 1385.92,545.14 1389.06,548.28" fill="#4b6ca3" stroke="#384b70" stroke-width="1.2"/>
<line x1="856.8" y1="100.6" x2="886.2" y2="100.6" stroke="#4a5a72" stroke-width="1.5"/>
<polygon points="877.04,102.90 873.80,106.14 869.20,106.14 865.96,102.90 865.96,98.30 869.20,95.06 873.80,95.06 877.04,98.30" fill="#4b6ca3" stroke="#384b70" stroke-width="1.2"/>
<text x="901.55" y="106.50" font-size="20" font-weight="normal" fill="#111111">exome</text>
<text x="853.56" y="146.20" font-size="20" font-weight="normal" fill="#111111">genome sensitivity</text>
<line x1="854.4" y1="170.3" x2="886.2" y2="170.3" stroke="#5f8371" stroke-width="1.6"/>
<path transform="translate(898.80,174.10) scale(0.00942,-0.00942)" d="M763,0L583,0L583,1147Q518,1085 415,1024Q312,964 223,931L223,1105Q374,1176 487,1276Q600,1377 647,1466L763,1466Z" fill="#111111"/><text x="909.53" y="174.10" font-size="19.3" font-weight="normal" fill="#111111">.20</text>
<line x1="854.4" y1="195.8" x2="886.2" y2="195.8" stroke="#606b65" stroke-width="1.6" stroke-dasharray="3.6 2.4"/>
<path transform="translate(898.80,202.00) scale(0.00942,-0.00942)" d="M763,0L583,0L583,1147Q518,1085 415,1024Q312,964 223,931L223,1105Q374,1176 487,1276Q600,1377 647,1466L763,1466Z" fill="#111111"/><text x="909.53" y="202.00" font-size="19.3" font-weight="normal" fill="#111111">.</text><path transform="translate(914.89,202.00) scale(0.00942,-0.00942)" d="M763,0L583,0L583,1147Q518,1085 415,1024Q312,964 223,931L223,1105Q374,1176 487,1276Q600,1377 647,1466L763,1466Z" fill="#111111"/><text x="925.63" y="202.00" font-size="19.3" font-weight="normal" fill="#111111">5</text>
<line x1="854.4" y1="225" x2="883.4" y2="225" stroke="#606b65" stroke-width="1.6" stroke-dasharray="3.8 4.4"/>
<path transform="translate(898.80,231.50) scale(0.00942,-0.00942)" d="M763,0L583,0L583,1147Q518,1085 415,1024Q312,964 223,931L223,1105Q374,1176 487,1276Q600,1377 647,1466L763,1466Z" fill="#111111"/><text x="909.53" y="231.50" font-size="19.3" font-weight="normal" fill="#111111">.</text><path transform="translate(914.89,231.50) scale(0.00942,-0.00942)" d="M763,0L583,0L583,1147Q518,1085 415,1024Q312,964 223,931L223,1105Q374,1176 487,1276Q600,1377 647,1466L763,1466Z" fill="#111111"/><text x="925.63" y="231.50" font-size="19.3" font-weight="normal" fill="#111111">0</text>
<line x1="854.4" y1="254.4" x2="886.2" y2="254.4" stroke="#606b65" stroke-width="1.6" stroke-dasharray="4.4 13.4"/>
<path transform="translate(898.80,260.30) scale(0.00942,-0.00942)" d="M763,0L583,0L583,1147Q518,1085 415,1024Q312,964 223,931L223,1105Q374,1176 487,1276Q600,1377 647,1466L763,1466Z" fill="#111111"/><text x="909.53" y="260.30" font-size="19.3" font-weight="normal" fill="#111111">.05</text>
<line x1="854.4" y1="283" x2="886.2" y2="283" stroke="#606b65" stroke-width="1.6" stroke-dasharray="4.4 22.2"/>
<path transform="translate(898.80,290.30) scale(0.00942,-0.00942)" d="M763,0L583,0L583,1147Q518,1085 415,1024Q312,964 223,931L223,1105Q374,1176 487,1276Q600,1377 647,1466L763,1466Z" fill="#111111"/><text x="909.53" y="290.30" font-size="19.3" font-weight="normal" fill="#111111">.00</text>
</svg>
</body></html>
